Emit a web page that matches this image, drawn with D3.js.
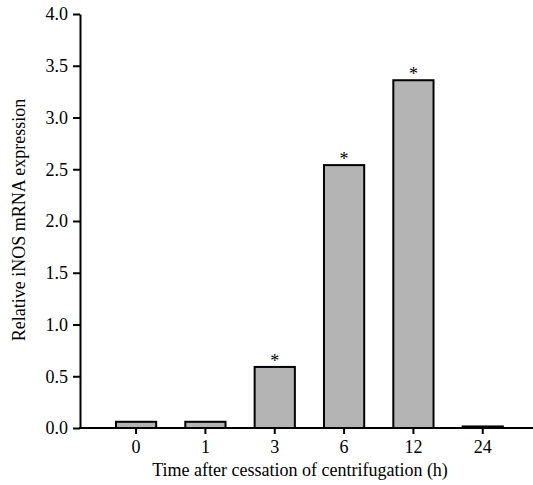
<!DOCTYPE html>
<head>
<meta charset="utf-8">
<style>
    body { margin: 0; background: #fff; }
    svg text { font-family: 'Times New Roman', 'Liberation Serif', Times, serif !important; fill: #000; }
</style>
</head>
<body>
    <script src="https://d3js.org/d3.v7.min.js"></script>
    <script>

    // data
    const hours = ['0', '1', '3', '6', '12', '24'];
    const expression = [0.06, 0.06, 0.59, 2.54, 3.36, 0.015];
    const significant = [false, false, true, true, true, false];
    const yTicks = [0, 0.5, 1, 1.5, 2, 2.5, 3, 3.5, 4];

    // setup
    const width = 533, height = 485;
    const plotLeft = 80, plotRight = 530, plotTop = 14, plotBottom = 428;

    let svg = d3.select('body').append('svg')
        .attr('width', width)
        .attr('height', height);

    let x = d3.scaleBand()
        .domain(hours)
        .range([plotLeft, plotRight])
        .paddingInner(0.42)
        .paddingOuter(0.455)
        .align(0.57);

    let y = d3.scaleLinear()
        .domain([0, 4])
        .range([plotBottom, plotTop]);

    // bars
    svg.selectAll('rect.bar')
        .data(hours)
        .enter().append('rect')
        .attr('class', 'bar')
        .attr('x', d => x(d))
        .attr('width', x.bandwidth())
        .attr('y', (d, i) => y(expression[i]))
        .attr('height', (d, i) => plotBottom - y(expression[i]))
        .attr('fill', '#b4b4b4')
        .attr('stroke', '#000')
        .attr('stroke-width', 2);

    // asterisks
    svg.selectAll('text.star')
        .data(hours.filter((d, i) => significant[i]))
        .enter().append('text')
        .attr('class', 'star')
        .attr('x', d => x(d) + x.bandwidth() / 2)
        .attr('y', d => y(expression[hours.indexOf(d)]))
        .attr('text-anchor', 'middle')
        .style('font-size', '18px')
        .text('*');

    // y axis
    let yAxis = svg.append('g')
        .attr('transform', 'translate(' + plotLeft + ',0)')
        .call(d3.axisLeft(y).tickValues(yTicks).tickFormat(d3.format('.1f')).tickSize(7).tickSizeOuter(0));
    yAxis.select('.domain').attr('stroke-width', 2);
    yAxis.selectAll('.tick line').attr('stroke-width', 2);
    yAxis.selectAll('.tick text')
        .attr('x', -12)
        .style('font-size', '18px');

    // x axis
    let xAxis = svg.append('g')
        .attr('transform', 'translate(0,' + plotBottom + ')')
        .call(d3.axisBottom(x).tickSize(6).tickSizeOuter(0));
    xAxis.select('.domain').remove();
    xAxis.append('line')
        .attr('x1', plotLeft - 1).attr('x2', width)
        .attr('stroke', '#000').attr('stroke-width', 2);
    xAxis.selectAll('.tick line').attr('stroke-width', 2);
    xAxis.selectAll('.tick text')
        .attr('y', 12)
        .style('font-size', '18px');

    // labels
    svg.append('text')
        .attr('x', 300)
        .attr('y', 476)
        .attr('text-anchor', 'middle')
        .style('font-size', '18px')
        .text('Time after cessation of centrifugation (h)');

    svg.append('text')
        .attr('transform', 'translate(25,220) rotate(-90)')
        .attr('text-anchor', 'middle')
        .style('font-size', '18px')
        .text('Relative iNOS mRNA expression');

    </script>
</body>
